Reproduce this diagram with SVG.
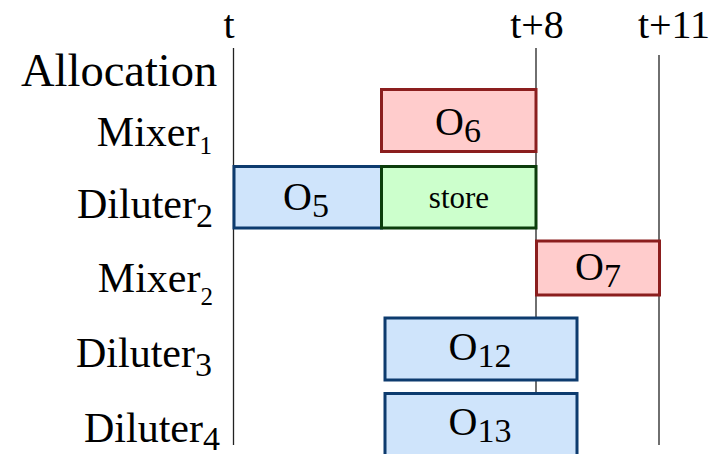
<svg xmlns="http://www.w3.org/2000/svg" width="728" height="454" viewBox="0 0 728 454">
  <style>
    text { font-family: "Liberation Serif", "Times New Roman", serif; fill: #000; }
    .tick { font-size: 40px; text-anchor: middle; }
    .row { font-size: 42px; text-anchor: end; }
    .op { font-size: 40px; text-anchor: middle; }
    .grid { stroke: #222; stroke-width: 1.3; fill: none; }
    .red { fill: #ffcccc; stroke: #8b1e1e; stroke-width: 3; }
    .blue { fill: #cfe4fb; stroke: #0d3b6e; stroke-width: 3; }
    .green { fill: #ccffcc; stroke: #0c3d0c; stroke-width: 3; }
  </style>

  <!-- time markers -->
  <g id="time-labels">
    <text class="tick" x="229" y="38">t</text>
    <text class="tick" x="537" y="38">t+8</text>
    <text class="tick" x="674" y="38">t+11</text>
  </g>

  <!-- vertical time lines -->
  <g id="connectors">
    <line class="grid" x1="233.5" y1="48" x2="233.5" y2="445"/>
    <line class="grid" x1="536" y1="48" x2="536" y2="445"/>
    <line class="grid" x1="659" y1="55" x2="659" y2="445"/>
  </g>

  <!-- resource rows -->
  <g id="row-labels">
    <text x="21" y="86" style="font-size:46.5px">Allocation</text>
    <text class="row" x="212" y="146">Mixer<tspan dy="8" font-size="25">1</tspan></text>
    <text class="row" x="213" y="218">Diluter<tspan dy="9" font-size="34">2</tspan></text>
    <text class="row" x="213" y="292">Mixer<tspan dy="13" font-size="25">2</tspan></text>
    <text class="row" x="212" y="367">Diluter<tspan dy="9" font-size="34">3</tspan></text>
    <text class="row" x="220" y="442">Diluter<tspan dy="8" font-size="34">4</tspan></text>
  </g>

  <!-- scheduled operations -->
  <g id="O6">
    <rect class="red" x="381.5" y="89.5" width="154.5" height="62"/>
    <text class="op" x="458" y="135">O<tspan dy="7" font-size="34">6</tspan></text>
  </g>
  <g id="O5">
    <rect class="blue" x="234" y="166.5" width="147.5" height="61.5"/>
    <text class="op" x="306" y="210">O<tspan dy="7" font-size="34">5</tspan></text>
  </g>
  <g id="store">
    <rect class="green" x="381.5" y="166.5" width="154.5" height="61.5"/>
    <text x="459" y="208" style="font-size:31px" text-anchor="middle">store</text>
  </g>
  <g id="O7">
    <rect class="red" x="536.5" y="241" width="123" height="54"/>
    <text class="op" x="598" y="280">O<tspan dy="7" font-size="34">7</tspan></text>
  </g>
  <g id="O12">
    <rect class="blue" x="385" y="318" width="192" height="62"/>
    <text class="op" x="480" y="360">O<tspan dy="7" font-size="34">12</tspan></text>
  </g>
  <g id="O13">
    <rect class="blue" x="385" y="393.5" width="192" height="70"/>
    <text class="op" x="480" y="435">O<tspan dy="7" font-size="34">13</tspan></text>
  </g>
</svg>
